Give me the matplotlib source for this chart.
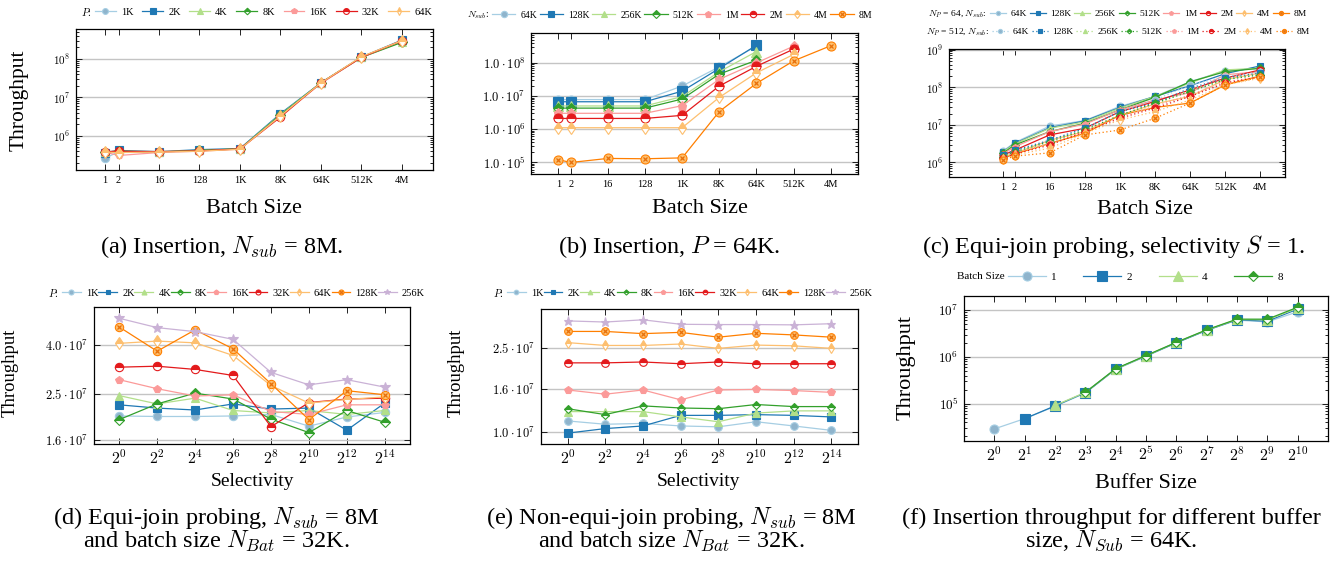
import matplotlib
matplotlib.use('Agg')
import matplotlib.pyplot as plt
from matplotlib.ticker import NullLocator, NullFormatter, LogLocator

plt.rcParams['font.family'] = ['Liberation Serif', 'DejaVu Serif']
plt.rcParams['mathtext.fontset'] = 'cm'

W, H = 1341, 567

# ---------------------------------------------------------------- data
BATCH_SIZES = [1, 2, 16, 128, 1024, 8192, 65536, 524288, 4194304]
BATCH_LABELS = ['1', '2', '16', '128', '1K', '8K', '64K', '512K', '4M']

# (a) insertion, N_sub = 8M
A_P = ['1K', '2K', '4K', '8K', '16K', '32K', '64K']
A_THROUGHPUT = [
    [2.6e5, 3.9e5, 3.8e5, 4.2e5, 4.6e5, 3.7e6, 2.4e7, 1.10e8, 3.0e8],
    [3.7e5, 4.2e5, 3.9e5, 4.4e5, 4.7e5, 3.8e6, 2.4e7, 1.12e8, 3.1e8],
    [3.8e5, 4.0e5, 3.9e5, 4.2e5, 4.6e5, 3.6e6, 2.4e7, 1.10e8, 2.8e8],
    [3.8e5, 4.0e5, 3.8e5, 4.2e5, 4.6e5, 3.5e6, 2.4e7, 1.10e8, 2.7e8],
    [3.8e5, 3.1e5, 3.7e5, 4.0e5, 4.5e5, 3.3e6, 2.3e7, 1.10e8, 3.0e8],
    [3.9e5, 4.0e5, 3.9e5, 4.1e5, 4.6e5, 3.1e6, 2.4e7, 1.10e8, 3.0e8],
    [3.8e5, 3.7e5, 3.8e5, 4.0e5, 4.5e5, 3.3e6, 2.4e7, 1.15e8, 3.0e8],
]

# (b) insertion, P = 64K
B_NSUB = ['64K', '128K', '256K', '512K', '1M', '2M', '4M', '8M']
B_THROUGHPUT = [
    [7.8e6, 7.8e6, 7.8e6, 7.8e6, 2.0e7, 7.6e7, 3.2e8],
    [6.7e6, 6.7e6, 6.7e6, 6.7e6, 1.4e7, 6.8e7, 3.4e8],
    [5.0e6, 5.0e6, 5.0e6, 5.0e6, 9.6e6, 5.4e7, 2.2e8],
    [4.3e6, 4.3e6, 4.3e6, 4.3e6, 8.1e6, 4.6e7, 1.2e8],
    [3.0e6, 3.0e6, 3.0e6, 3.0e6, 5.1e6, 3.2e7, 1.0e8, 3.2e8],
    [2.1e6, 2.1e6, 2.1e6, 2.1e6, 2.6e6, 2.0e7, 7.9e7, 2.6e8],
    [1.1e6, 1.1e6, 1.1e6, 1.1e6, 1.1e6, 9.1e6, 5.0e7, 1.8e8],
    [1.2e5, 9.8e4, 1.3e5, 1.27e5, 1.35e5, 3.4e6, 2.4e7, 1.15e8, 3.3e8],
]

# (c) equi-join probing, S = 1
C_NSUB = ['64K', '128K', '256K', '512K', '1M', '2M', '4M', '8M']
C_NP64 = [
    [2.0e6, 3.35e6, 9.3e6, 1.3e7, 3.1e7, 5.7e7, 1.4e8, 2.75e8, 3.2e8],
    [1.9e6, 3.2e6, 8.4e6, 1.27e7, 2.9e7, 5.7e7, 1.1e8, 2.3e8, 3.7e8],
    [1.9e6, 3.1e6, 8.1e6, 1.2e7, 2.8e7, 5.7e7, 1.3e8, 2.9e8, 3.2e8],
    [1.74e6, 2.9e6, 6.6e6, 1.1e7, 2.5e7, 5.4e7, 1.4e8, 2.6e8, 3.2e8],
    [1.67e6, 2.6e6, 6.6e6, 1.05e7, 2.5e7, 4.6e7, 7.2e7, 2.15e8, 2.6e8],
    [1.57e6, 2.1e6, 5.4e6, 8.1e6, 2.25e7, 4.2e7, 8.5e7, 1.75e8, 2.9e8],
    [1.41e6, 1.74e6, 3.9e6, 6.6e6, 1.8e7, 3.6e7, 5.7e7, 1.6e8, 2.4e8],
    [1.28e6, 1.67e6, 3.2e6, 5.9e6, 1.8e7, 2.9e7, 3.8e7, 1.16e8, 2.0e8],
]
C_NP512 = [
    [1.41e6, 1.9e6, 3.9e6, 8.1e6, 2.25e7, 4.6e7, 1.16e8, 1.9e8, 2.6e8],
    [1.57e6, 2.1e6, 3.9e6, 8.1e6, 2.25e7, 3.8e7, 9.5e7, 1.75e8, 2.4e8],
    [1.41e6, 1.9e6, 3.2e6, 7.3e6, 1.8e7, 3.4e7, 8.5e7, 1.6e8, 2.15e8],
    [1.41e6, 1.9e6, 3.6e6, 7.3e6, 1.8e7, 3.8e7, 7.7e7, 1.6e8, 2.15e8],
    [1.28e6, 1.74e6, 3.2e6, 6.6e6, 1.66e7, 3.1e7, 6.3e7, 1.4e8, 1.9e8],
    [1.28e6, 1.67e6, 2.9e6, 6.6e6, 1.5e7, 2.8e7, 5.7e7, 1.3e8, 1.9e8],
    [1.2e6, 1.57e6, 2.4e6, 5.9e6, 1.35e7, 2.25e7, 4.6e7, 1.16e8, 1.75e8],
    [1.15e6, 1.47e6, 1.8e6, 5.4e6, 7.3e6, 1.5e7, 3.8e7, 1.16e8, 1.86e8],
]

SELECTIVITY = [2 ** k for k in range(0, 15, 2)]
SELECTIVITY_LABELS = [rf'$2^{{{k}}}$' for k in range(0, 15, 2)]
P_LABELS = ['1K', '2K', '4K', '8K', '16K', '32K', '64K', '128K', '256K']

# (d) equi-join probing, N_sub = 8M, N_Bat = 32K
D_THROUGHPUT = [
    [2.02e7, 2.01e7, 2.01e7, 2.02e7, 2.05e7, 1.83e7, 2.0e7, 2.09e7],
    [2.25e7, 2.18e7, 2.14e7, 2.27e7, 2.16e7, 2.18e7, 1.76e7, 2.29e7],
    [2.46e7, 2.27e7, 2.40e7, 2.13e7, 2.08e7, 2.13e7, 2.05e7, 2.13e7],
    [1.95e7, 2.27e7, 2.52e7, 2.38e7, 1.96e7, 1.72e7, 2.13e7, 1.90e7],
    [2.87e7, 2.63e7, 2.45e7, 2.48e7, 2.11e7, 2.05e7, 2.25e7, 2.25e7],
    [3.24e7, 3.27e7, 3.17e7, 2.99e7, 1.82e7, 2.30e7, 2.38e7, 2.40e7],
    [4.08e7, 4.17e7, 4.10e7, 3.63e7, 2.71e7, 2.29e7, 2.37e7, 2.43e7],
    [4.78e7, 3.78e7, 4.65e7, 3.87e7, 2.76e7, 1.95e7, 2.58e7, 2.48e7],
    [5.20e7, 4.75e7, 4.57e7, 4.24e7, 3.08e7, 2.73e7, 2.87e7, 2.67e7],
]

# (e) non-equi-join probing, N_sub = 8M, N_Bat = 32K
E_THROUGHPUT = [
    [1.13e7, 1.09e7, 1.10e7, 1.07e7, 1.06e7, 1.12e7, 1.07e7, 1.02e7],
    [9.9e6, 1.04e7, 1.07e7, 1.20e7, 1.20e7, 1.21e7, 1.20e7, 1.18e7],
    [1.25e7, 1.25e7, 1.25e7, 1.18e7, 1.12e7, 1.23e7, 1.26e7, 1.26e7],
    [1.29e7, 1.21e7, 1.33e7, 1.30e7, 1.29e7, 1.35e7, 1.32e7, 1.32e7],
    [1.58e7, 1.51e7, 1.58e7, 1.42e7, 1.58e7, 1.59e7, 1.57e7, 1.54e7],
    [2.12e7, 2.12e7, 2.14e7, 2.10e7, 2.14e7, 2.10e7, 2.10e7, 2.10e7],
    [2.64e7, 2.56e7, 2.56e7, 2.60e7, 2.48e7, 2.57e7, 2.55e7, 2.48e7],
    [2.98e7, 2.98e7, 2.91e7, 2.95e7, 2.80e7, 2.92e7, 2.87e7, 2.80e7],
    [3.34e7, 3.30e7, 3.38e7, 3.22e7, 3.21e7, 3.21e7, 3.20e7, 3.24e7],
]

# (f) insertion throughput vs buffer size, N_Sub = 64K
BUFFER_SIZES = [2 ** k for k in range(11)]
BUFFER_LABELS = [rf'$2^{{{k}}}$' for k in range(11)]
F_BATCH = [1, 2, 4, 8]
F_THROUGHPUT = [
    [2.9e4, 4.8e4, 8.8e4, 1.7e5, 5.4e5, 1.03e6, 2.0e6, 3.7e6, 6.1e6, 5.6e6, 9.2e6],
    [4.8e4, 9.0e4, 1.72e5, 5.5e5, 1.05e6, 2.0e6, 3.7e6, 6.2e6, 5.8e6, 1.05e7],
    [9.2e4, 1.75e5, 5.5e5, 1.05e6, 2.05e6, 3.75e6, 6.3e6, 6.2e6, 1.1e7],
    [1.75e5, 5.6e5, 1.07e6, 2.05e6, 3.8e6, 6.4e6, 6.4e6, 1.15e7],
]

# ---------------------------------------------------------------- style
PAIRED = ['#a6cee3', '#1f78b4', '#b2df8a', '#33a02c', '#fb9a99',
          '#e31a1c', '#fdbf6f', '#ff7f00', '#cab2d6']
MARKS = [
    dict(marker='o', fill='full', mfc='#8fb4cc'),
    dict(marker='s', fill='full'),
    dict(marker='^', fill='full'),
    dict(marker='D', fill='top', scale=0.8),
    dict(marker='p', fill='full'),
    dict(marker='o', fill='top'),
    dict(marker='d', fill='top'),
    dict(marker='o', fill='full', mfc='#fdbf6f', cross=True),
    dict(marker='*', fill='full', scale=1.2),
]
CAPTION_FS = 17.5


def panel_axes(fig, left, top, right, bottom):
    return fig.add_axes([left / W, 1 - bottom / H, (right - left) / W, (bottom - top) / H])


def style_axes(ax, xticks, xlabels, xlim, yticks, ylabels, ylim, minor=True, xfs=7.5, yfs=8):
    ax.set_xscale('log', base=2)
    ax.set_yscale('log')
    ax.set_xlim(*xlim)
    ax.set_ylim(*ylim)
    ax.set_xticks(xticks, xlabels)
    ax.set_yticks(yticks, ylabels)
    ax.xaxis.set_minor_locator(NullLocator())
    if minor:
        ax.yaxis.set_minor_locator(LogLocator(base=10, subs=range(2, 10), numticks=30))
    else:
        ax.yaxis.set_minor_locator(NullLocator())
    ax.yaxis.set_minor_formatter(NullFormatter())
    ax.tick_params(which='both', direction='in', top=True, right=True, width=0.6)
    ax.tick_params(which='major', length=4, pad=4)
    ax.tick_params(which='minor', length=2.2)
    ax.tick_params(axis='x', labelsize=xfs)
    ax.tick_params(axis='y', labelsize=yfs)
    ax.yaxis.grid(True, which='major', color='#c4c4c4', lw=1.0)
    ax.set_axisbelow(True)
    for s in ax.spines.values():
        s.set_linewidth(0.9)


def draw_series(ax, x, y, k, ms, ls='-', lw=0.9):
    st = MARKS[k]
    color = PAIRED[k]
    line, = ax.plot(x, y, ls=ls, lw=lw, color=color, marker=st['marker'],
                    ms=ms * st.get('scale', 1.0), mfc=st.get('mfc', color), mec=color,
                    mew=0.8, fillstyle=st['fill'], markerfacecoloralt='white')
    if st.get('cross'):
        cross, = ax.plot(x, y, ls='none', marker='x', ms=ms * 0.55, mec='#e8700a', mew=0.9)
        return (line, cross)
    return line


def top_legend(fig, handles, labels, x0, x1, y, prefix, fs, hl, mscale):
    fig.legend(handles, labels, loc='center', bbox_to_anchor=(x0 / W, 1 - (y + 5) / H, (x1 - x0) / W, 10 / H),
               mode='expand', ncol=len(labels), frameon=False, fontsize=fs, handlelength=hl,
               handletextpad=0.5, borderpad=0, borderaxespad=0, markerscale=mscale, columnspacing=0.2)
    fig.text((x0 - 3) / W, 1 - y / H, prefix, ha='right', va='center', fontsize=fs)


def label(fig, x, y, text, fs, rotation=0):
    fig.text(x / W, 1 - y / H, text, ha='center', va='center', fontsize=fs, rotation=rotation)


fig = plt.figure(figsize=(W / 100, H / 100), dpi=100)

# (a)
ax = panel_axes(fig, 76, 29, 433, 170)
handles = [draw_series(ax, BATCH_SIZES, y, k, 6) for k, y in enumerate(A_THROUGHPUT)]
style_axes(ax, BATCH_SIZES, BATCH_LABELS, (2 ** -2.15, 2 ** 24.3),
           [1e6, 1e7, 1e8], [r'$10^{6}$', r'$10^{7}$', r'$10^{8}$'], (1.3e5, 6e8))
top_legend(fig, handles, A_P, 95, 432, 12, r'$P$:', 7.5, 2.0, 0.7)
label(fig, 19, 100, 'Throughput', 15.5, 90)
label(fig, 254, 209, 'Batch Size', 16)
label(fig, 222, 247, r'(a) Insertion, $N_{sub}$ = 8M.', CAPTION_FS)

# (b)
ax = panel_axes(fig, 531, 33, 858, 174)
handles = [draw_series(ax, BATCH_SIZES[:len(y)], y, k, 6.5) for k, y in enumerate(B_THROUGHPUT)]
style_axes(ax, BATCH_SIZES, BATCH_LABELS, (2 ** -2.2, 2 ** 24.2),
           [1e5, 1e6, 1e7, 1e8], [rf'$1.0\cdot10^{{{e}}}$' for e in (5, 6, 7, 8)], (4.4e4, 8e8),
           yfs=9)
top_legend(fig, handles, B_NSUB, 492, 872, 15, r'$N_{sub}$:', 7, 2.4, 0.7)
label(fig, 700, 209, 'Batch Size', 16)
label(fig, 669, 247, r'(b) Insertion, $P$ = 64K.', CAPTION_FS)

# (c)
ax = panel_axes(fig, 949, 49, 1285, 177)
h64 = [draw_series(ax, BATCH_SIZES, y, k, 5) for k, y in enumerate(C_NP64)]
h512 = [draw_series(ax, BATCH_SIZES, y, k, 5, ls=(0, (1, 2))) for k, y in enumerate(C_NP512)]
style_axes(ax, BATCH_SIZES, BATCH_LABELS, (2 ** -4.6, 2 ** 24.1),
           [1e6, 1e7, 1e8, 1e9], [rf'$\mathbf{{10^{{{e}}}}}$' for e in (6, 7, 8, 9)], (4.1e5, 1.04e9))
top_legend(fig, h64, C_NSUB, 990, 1307, 14, r'$N_P$ = 64, $N_{sub}$:', 6.8, 1.7, 0.6)
top_legend(fig, h512, C_NSUB, 992, 1310, 32, r'$N_P$ = 512, $N_{sub}$:', 6.8, 1.7, 0.6)
label(fig, 1145, 210, 'Batch Size', 16)
label(fig, 1114, 247, r'(c) Equi-join probing, selectivity $S$ = 1.', CAPTION_FS)

# (d)
ax = panel_axes(fig, 94, 307, 410, 444)
handles = [draw_series(ax, SELECTIVITY, y, k, 6) for k, y in enumerate(D_THROUGHPUT)]
style_axes(ax, SELECTIVITY, SELECTIVITY_LABELS, (2 ** -1.33, 2 ** 15.33),
           [1.6e7, 2.5e7, 4.0e7], [r'$1.6\cdot10^{7}$', r'$2.5\cdot10^{7}$', r'$4.0\cdot10^{7}$'],
           (1.54e7, 5.8e7), minor=False, xfs=11.5, yfs=9)
top_legend(fig, handles, P_LABELS, 62, 425, 293, r'$P$:', 7.5, 1.8, 0.6)
label(fig, 10, 373, 'Throughput', 13.5, 90)
label(fig, 252, 482, 'Selectivity', 14)
label(fig, 216, 518, r'(d) Equi-join probing, $N_{sub}$ = 8M', CAPTION_FS)
label(fig, 216, 541, r'and batch size $N_{Bat}$ = 32K.', CAPTION_FS)

# (e)
ax = panel_axes(fig, 541, 309, 858, 444)
handles = [draw_series(ax, SELECTIVITY, y, k, 5.5) for k, y in enumerate(E_THROUGHPUT)]
style_axes(ax, SELECTIVITY, SELECTIVITY_LABELS, (2 ** -1.41, 2 ** 15.41),
           [1.0e7, 1.6e7, 2.5e7], [r'$1.0\cdot10^{7}$', r'$1.6\cdot10^{7}$', r'$2.5\cdot10^{7}$'],
           (8.8e6, 3.8e7), minor=False, xfs=11.5, yfs=9)
top_legend(fig, handles, P_LABELS, 507, 873, 293, r'$P$:', 7.5, 1.8, 0.6)
label(fig, 456, 373, 'Throughput', 13.5, 90)
label(fig, 699, 482, 'Selectivity', 14)
label(fig, 671, 518, r'(e) Non-equi-join probing, $N_{sub}$ = 8M', CAPTION_FS)
label(fig, 671, 541, r'and batch size $N_{Bat}$ = 32K.', CAPTION_FS)

# (f)
ax = panel_axes(fig, 964, 296, 1328, 441)
handles = [draw_series(ax, BUFFER_SIZES[k:], y, k, 6.5)
           for k, y in enumerate(F_THROUGHPUT)]
style_axes(ax, BUFFER_SIZES, BUFFER_LABELS, (2 ** -1, 2 ** 11),
           [1e5, 1e6, 1e7], [r'$10^{5}$', r'$10^{6}$', r'$10^{7}$'], (1.6e4, 2.0e7),
           xfs=11.5, yfs=9.5)
top_legend(fig, handles, [str(b) for b in F_BATCH], 1008, 1283, 277, 'Batch Size', 8, 3.4, 1.0)
label(fig, 906, 367, 'Throughput', 16, 90)
label(fig, 1146, 483, 'Buffer Size', 16)
label(fig, 1111, 518, '(f) Insertion throughput for different buffer', CAPTION_FS)
label(fig, 1111, 541, r'size, $N_{Sub}$ = 64K.', CAPTION_FS)

fig.savefig('out.png', dpi=100)
